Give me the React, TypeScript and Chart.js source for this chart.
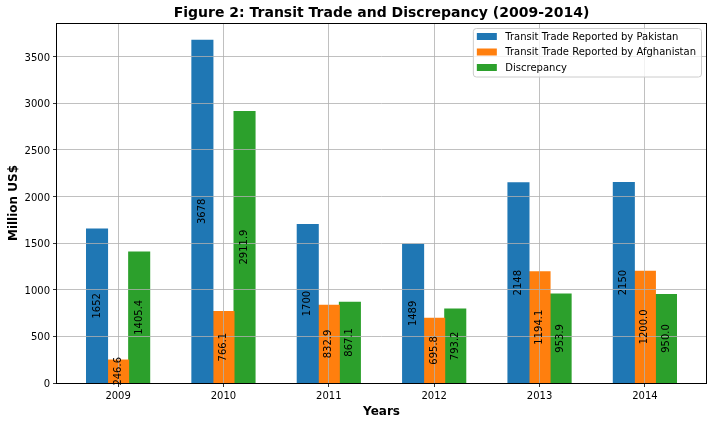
import React, { useEffect, useRef } from 'react';
import { Chart, registerables } from 'chart.js';
Chart.register(...registerables);

const years = ['2009', '2010', '2011', '2012', '2013', '2014'];
const pakistan = [1652, 3678, 1700, 1489, 2148, 2150];
const afghanistan = [246.6, 766.1, 832.9, 695.8, 1194.1, 1200.0];
const discrepancy = [1405.4, 2911.9, 867.1, 793.2, 953.9, 950.0];
const yTicks = [0, 500, 1000, 1500, 2000, 2500, 3000, 3500];

const FONT = "'DejaVu Sans', sans-serif";
const TITLE = 'Figure 2: Transit Trade and Discrepancy (2009-2014)';

const series = [
  { label: 'Transit Trade Reported by Pakistan', values: pakistan, color: '#1f77b4', digits: 0 },
  { label: 'Transit Trade Reported by Afghanistan', values: afghanistan, color: '#ff7f0e', digits: 1 },
  { label: 'Discrepancy', values: discrepancy, color: '#2ca02c', digits: 1 },
];

// matplotlib-style limits: bars span -0.3..n-0.7, plus 5% margins
const xLo = -0.3;
const xHi = years.length - 1 + 0.3;
const xPad = (xHi - xLo) * 0.05;
const yMax = Math.max(...pakistan, ...afghanistan, ...discrepancy) * 1.05;

const overlay = {
  id: 'overlay',
  afterDraw(chart: any) {
    const { ctx, chartArea: a } = chart;
    ctx.save();

    // value labels, rotated, centred at half the bar height
    ctx.font = `10px ${FONT}`;
    ctx.fillStyle = '#000';
    ctx.textAlign = 'center';
    ctx.textBaseline = 'middle';
    series.forEach((s, di) => {
      const meta = chart.getDatasetMeta(di);
      meta.data.forEach((bar: any, i: number) => {
        const { x, y, base } = bar.getProps(['x', 'y', 'base'], true);
        ctx.save();
        ctx.translate(x, (y + base) / 2);
        ctx.rotate(-Math.PI / 2);
        ctx.fillText(s.values[i].toFixed(s.digits), 0, 0);
        ctx.restore();
      });
    });

    // axes frame
    ctx.strokeStyle = '#000';
    ctx.lineWidth = 1;
    ctx.strokeRect(Math.round(a.left) - 0.5, Math.round(a.top) + 0.5, Math.round(a.right - a.left) + 1, Math.round(a.bottom - a.top));

    // title
    ctx.font = `bold 14px ${FONT}`;
    ctx.textBaseline = 'middle';
    ctx.fillText(TITLE, (a.left + a.right) / 2, 13.5);

    // legend box in upper right
    ctx.font = `10px ${FONT}`;
    const textW = Math.max(...series.map((s) => ctx.measureText(s.label).width));
    const rowH = 15.5;
    const boxW = 4 + 20 + 8.5 + textW + 5;
    const boxH = series.length * rowH + 2;
    const bx = a.right - 5 - boxW;
    const by = a.top + 5;
    ctx.beginPath();
    ctx.roundRect(bx + 0.5, by + 0.5, boxW, boxH, 3);
    ctx.fillStyle = 'rgba(255,255,255,0.8)';
    ctx.fill();
    ctx.strokeStyle = '#cccccc';
    ctx.stroke();
    ctx.textAlign = 'left';
    series.forEach((s, i) => {
      const cy = by + 8.5 + i * rowH;
      ctx.fillStyle = s.color;
      ctx.fillRect(bx + 4, cy - 3.5, 20, 7);
      ctx.fillStyle = '#000';
      ctx.fillText(s.label, bx + 32.5, cy + 0.5);
    });

    ctx.restore();
  },
};

const App: React.FC = () => {
  const chartRef = useRef<HTMLCanvasElement>(null);
  const chartInstanceRef = useRef<Chart | null>(null);

  useEffect(() => {
    if (!chartRef.current) return;
    Chart.defaults.font.family = FONT;
    Chart.defaults.color = '#000';

    chartInstanceRef.current = new Chart(chartRef.current, {
      type: 'bar',
      data: {
        datasets: series.map((s) => ({
          label: s.label,
          data: s.values.map((v, i) => ({ x: i, y: v })),
          backgroundColor: s.color,
          borderWidth: 0,
          inflateAmount: 0.5,
          barPercentage: 1,
          categoryPercentage: 0.6,
        })),
      },
      options: {
        responsive: false,
        animation: false,
        layout: { padding: { top: 23, right: 6, left: 0, bottom: 0 } },
        plugins: {
          legend: { display: false },
          title: { display: false },
          tooltip: { enabled: false },
        },
        scales: {
          x: {
            type: 'linear',
            offset: false,
            min: xLo - xPad,
            max: xHi + xPad,
            afterBuildTicks: (scale: any) => {
              scale.ticks = years.map((_, i) => ({ value: i }));
            },
            afterFit: (scale: any) => {
              scale.height = 41;
            },
            ticks: {
              autoSkip: false,
              maxRotation: 0,
              padding: 3,
              font: { size: 10 },
              callback: (v: any) => years[v] ?? '',
            },
            grid: { offset: false, color: '#b0b0b0', lineWidth: 0.8, z: 1, tickColor: '#000', tickLength: 4 },
            border: { display: false },
            title: {
              display: true,
              text: 'Years',
              font: { size: 12, weight: 'bold' },
              padding: { top: 0, bottom: 5 },
            },
          },
          y: {
            min: 0,
            max: yMax,
            afterBuildTicks: (scale: any) => {
              scale.ticks = yTicks.map((v) => ({ value: v }));
            },
            afterFit: (scale: any) => {
              scale.width = 57;
            },
            ticks: {
              padding: 3,
              labelOffset: 1.5,
              font: { size: 10 },
              callback: (v: any) => String(v),
            },
            grid: { color: '#b0b0b0', lineWidth: 0.8, z: 1, tickColor: '#000', tickLength: 4 },
            border: { display: false },
            title: {
              display: true,
              text: 'Million US$',
              font: { size: 12, weight: 'bold' },
              padding: { top: 7, bottom: 0 },
            },
          },
        },
      },
      plugins: [overlay],
    } as any);

    return () => {
      if (chartInstanceRef.current) {
        chartInstanceRef.current.destroy();
        chartInstanceRef.current = null;
      }
    };
  }, []);

  return (
    <div style={{ position: 'fixed', left: 0, top: 0, width: 712, height: 424, background: '#fff' }}>
      <canvas ref={chartRef} width={712} height={424}></canvas>
    </div>
  );
};

export default App;
